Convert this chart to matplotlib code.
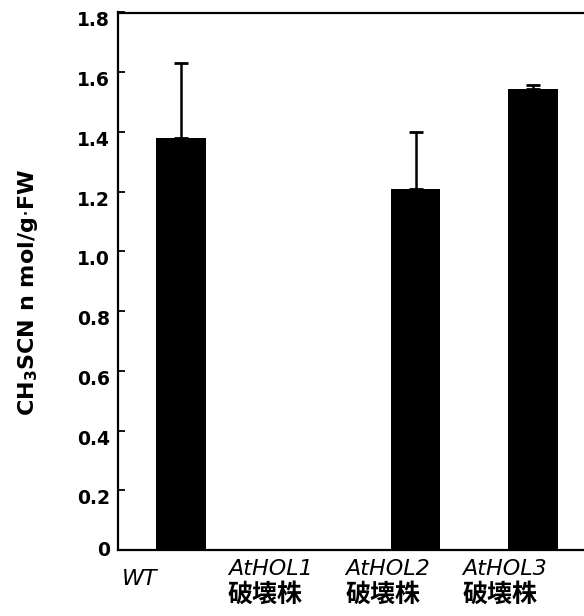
import matplotlib
matplotlib.use('Agg')
import matplotlib.pyplot as plt
import matplotlib.transforms as mtransforms
import numpy as np

categories = ['WT', 'AtHOL1', 'AtHOL2', 'AtHOL3']
sublabels = ['', '破壊株', '破壊株', '破壊株']
values = [1.38, 0.0, 1.21, 1.544]
upper_err = [0.25, 0.0, 0.19, 0.012]
yticks = [0, 0.2, 0.4, 0.6, 0.8, 1.0, 1.2, 1.4, 1.6, 1.8]
ytick_labels = ['0', '0.2', '0.4', '0.6', '0.8', '1.0', '1.2', '1.4', '1.6', '1.8']

plt.rcParams['font.family'] = ['DejaVu Sans', 'Noto Sans CJK JP']

fig = plt.figure(figsize=(5.84, 6.16), dpi=100)
ax = fig.add_axes([118 / 584, 66 / 616, 466 / 584, 537.5 / 616])

x = np.arange(len(categories))
vals = np.array(values)
has_err = np.array(upper_err) > 0
ax.bar(x, vals, width=0.42, color='black')
ax.errorbar(x[has_err], vals[has_err],
            yerr=[np.zeros(has_err.sum()), np.array(upper_err)[has_err]],
            fmt='none', ecolor='black', elinewidth=1.8, capsize=5, capthick=2)

ax.set_xlim(-0.537, 3.435)
ax.set_ylim(0, 1.8)
ax.set_yticks(yticks)
ax.set_yticklabels([])
ax.tick_params(axis='y', direction='in', length=5, width=1.3)
ax.set_xticks([])
ax.spines['right'].set_visible(False)
for s in ['left', 'bottom', 'top']:
    ax.spines[s].set_linewidth(1.6)

# tick labels sit a little below their ticks in the original
ytrans = ax.get_yaxis_transform()
for v, lab in zip(yticks, ytick_labels):
    dy = 0 if v == 0 else -8.5 / 100
    t = ytrans + mtransforms.ScaledTranslation(-8 / 100, dy, fig.dpi_scale_trans)
    ax.text(0, v, lab, transform=t, ha='right', va='center', fontsize=13.5,
            fontweight='bold', clip_on=False)

ax.text(-0.193, 0.48, 'CH$_\\mathbf{3}$SCN n mol/g$\\cdot$FW', transform=ax.transAxes,
        rotation=90, ha='center', va='center', fontsize=16, fontweight='bold')

for i, (c, s) in enumerate(zip(categories, sublabels)):
    if s:
        ax.text(i - 0.6, -0.084, c, ha='left', va='baseline', fontsize=16, style='italic',
                clip_on=False)
        ax.text(i - 0.6, -0.172, s, ha='left', va='baseline', fontsize=18,
                fontweight='bold', family=['Noto Sans CJK JP'], clip_on=False)
    else:
        ax.text(i - 0.5, -0.117, c, ha='left', va='baseline', fontsize=16, style='italic',
                clip_on=False)

fig.savefig('out.png', dpi=100)
